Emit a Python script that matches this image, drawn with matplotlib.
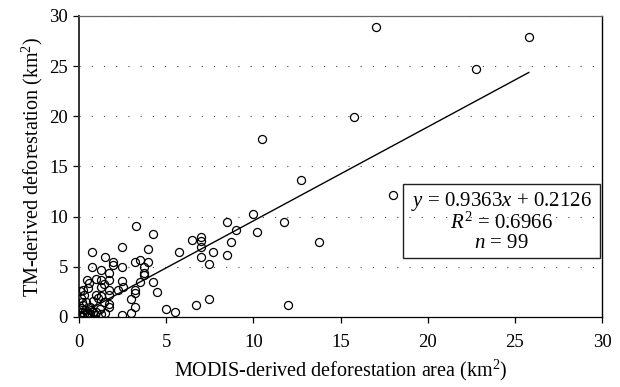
import numpy as np
import matplotlib.pyplot as plt
from matplotlib.patches import Rectangle

plt.rcParams['font.family'] = 'Liberation Serif'
plt.rcParams['mathtext.fontset'] = 'custom'
plt.rcParams['mathtext.rm'] = 'Liberation Serif'
plt.rcParams['mathtext.it'] = 'Liberation Serif:italic'

# MODIS-derived area (x) and TM-derived area (y), km2
modis = [3.25, 4.26, 2.47, 0.73, 3.98, 1.47, 1.97, 1.97, 3.24, 3.5,
         3.98, 0.73, 1.24, 2.47, 1.74, 3.73, 3.73, 3.73, 0.44, 0.95,
         1.24, 1.74, 2.47, 3.5, 4.26, 1.45, 0.21, 0.54, 1.24, 1.74,
         2.26, 2.5, 3.24, 3.24, 4.45, 0.1, 0.95, 1.24, 1.74, 2.96,
         1.45, 1.74, 0.25, 0.63, 1.74, 3.24, 1.2, 5.0, 5.5, 2.96,
         2.47, 6.7, 7.47, 0.15, 0.29, 0.44, 0.63, 0.9, 1.24, 0.06,
         0.34, 0.82, 5.72, 6.46, 7.0, 7.0, 7.0, 7.0, 7.47, 7.7,
         8.47, 8.7, 8.47, 8.98, 10.0, 10.2, 11.74, 13.75, 12.0, 18.0,
         12.74, 10.5, 17.05, 25.8, 22.76, 15.77, 0.1, 0.2, 0.5, 0.4,
         0.8, 1.0, 0.3, 0.6, 1.1, 0.05, 0.7, 1.5, 0.15]
tm = [9.1, 8.3, 7.0, 6.5, 6.75, 5.94, 5.45, 5.2, 5.5, 5.7,
      5.5, 4.97, 4.7, 4.97, 4.43, 4.97, 4.36, 4.16, 3.7, 3.76,
      3.7, 3.7, 3.6, 3.5, 3.5, 3.3, 2.7, 2.9, 2.95, 2.7,
      2.7, 2.95, 2.7, 2.35, 2.45, 1.85, 2.2, 2.1, 2.2, 1.75,
      1.5, 1.3, 1.2, 1.0, 0.95, 0.95, 0.75, 0.75, 0.45, 0.4,
      0.17, 1.2, 1.75, 0.5, 0.25, 0.4, 0.25, 0.17, 0.25, 0.17,
      0.67, 0.5, 6.5, 7.7, 8.0, 7.55, 7.0, 6.0, 5.25, 6.5,
      6.2, 7.5, 9.5, 8.7, 10.27, 8.5, 9.46, 7.44, 1.2, 12.2,
      13.7, 17.7, 28.9, 27.9, 24.67, 19.95, 0.9, 0.05, 0.1, 1.5,
      1.6, 0.5, 2.2, 3.4, 1.9, 2.6, 0.7, 0.4, 1.5]

slope = 0.9363
intercept = 0.2126
fit_x = [0, 25.8]

fig = plt.figure(figsize=(6.2, 3.87), dpi=100)
ax = fig.add_axes([0.1274, 0.1809, 0.8436, 0.7778])

for y in range(5, 31, 5):
    ax.axhline(y, color='#444444', linewidth=0.8, linestyle=(0, (1, 10)), zorder=0)

ax.plot(modis, tm, linestyle='none', marker='o', markersize=5.8,
        markerfacecolor='none', markeredgecolor='black', markeredgewidth=0.9, zorder=3)
fx = np.array(fit_x)
ax.plot(fx, slope * fx + intercept, color='black', linewidth=1.0, zorder=2)

ax.set_xlim(0, 30)
ax.set_ylim(0, 30)
ax.set_xticks(np.arange(0, 31, 5))
ax.set_yticks(np.arange(0, 31, 5))
ax.tick_params(direction='out', length=4, width=0.9, labelsize=13.5)
ax.tick_params(axis='x', pad=8)
ax.tick_params(axis='y', pad=4)

ax.spines['left'].set_color('#333333')
ax.spines['left'].set_linewidth(1.4)
ax.spines['top'].set_color('#666666')
ax.spines['top'].set_linewidth(0.9)
ax.spines['right'].set_linewidth(1.0)
ax.spines['bottom'].set_linewidth(0.9)

ax.set_xlabel('MODIS-derived deforestation area (km$^2$)', fontsize=14.5, labelpad=5)
ax.set_ylabel('TM-derived deforestation (km$^2$)', fontsize=14.5, labelpad=3)

ax.add_patch(Rectangle((18.6, 5.85), 11.3, 7.4, fill=False, edgecolor='#222222',
                       linewidth=1.0, zorder=4))
ax.text(24.25, 9.5, '$y$ = 0.9363$x$ + 0.2126\n$R^2$ = 0.6966\n$n$ = 99',
        ha='center', va='center', fontsize=15, linespacing=1.0, zorder=5)

fig.savefig('out.png', dpi=100)
